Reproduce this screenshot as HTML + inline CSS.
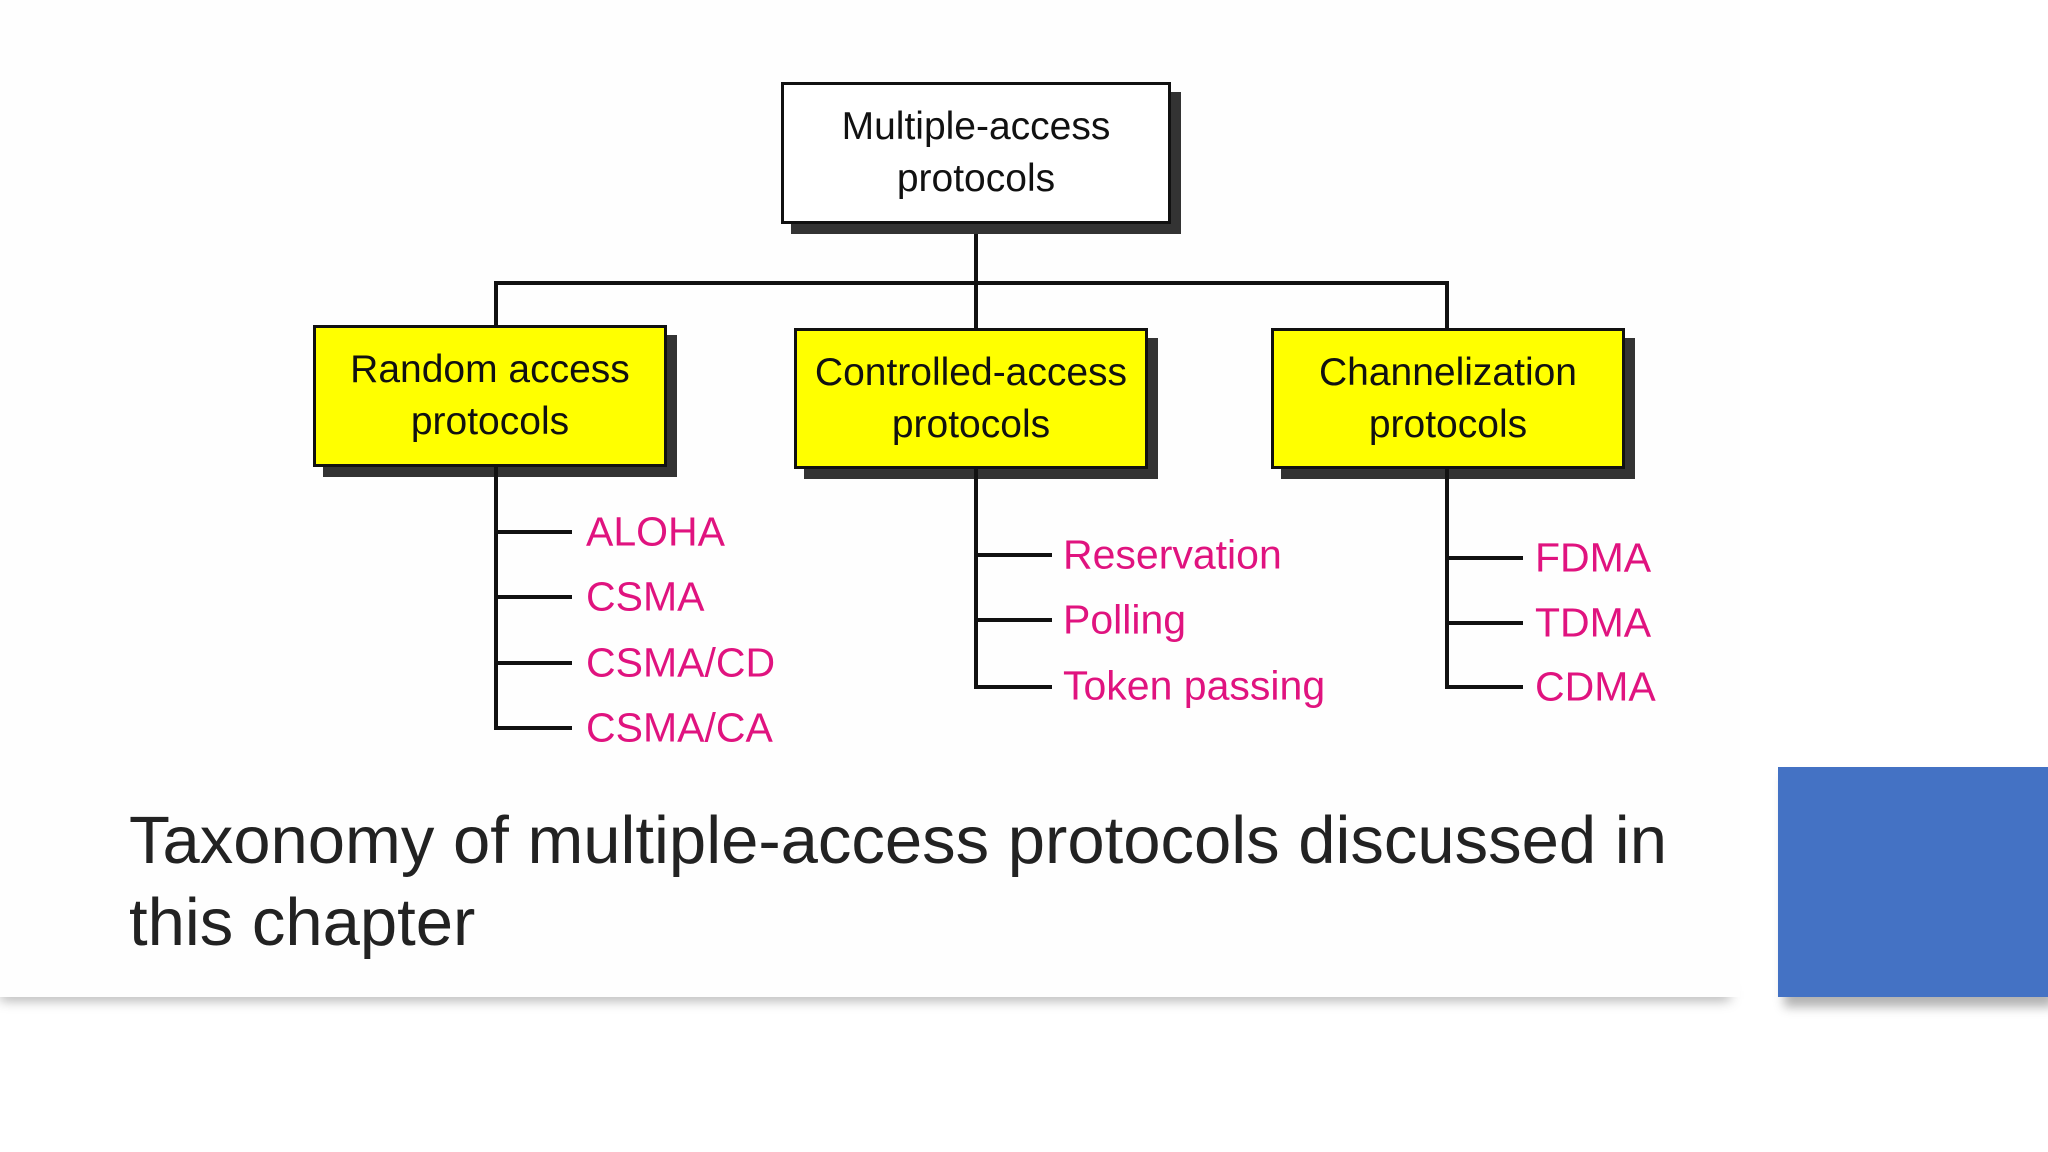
<!DOCTYPE html>
<html><head><meta charset="utf-8"><style>
html,body{margin:0;padding:0}
body{width:2048px;height:1152px;position:relative;overflow:hidden;background:#fff;font-family:"Liberation Sans",sans-serif}
.panel{position:absolute;left:0;top:0;width:1740px;height:997px;background:#fefefe}
.pshadow{position:absolute;left:0;top:990px;width:1730px;height:10px;background:rgba(0,0,0,.35);filter:blur(6px)}
.box{position:absolute;box-sizing:border-box;border:3px solid #111;box-shadow:10px 10px 0 #333;text-align:center;font-size:39px;line-height:52px;color:#111;display:flex;align-items:center;justify-content:center}
.y{background:#ffff00}
.l{position:absolute;background:#111}
.p{position:absolute;color:#e0137f;font-size:41px;line-height:1;transform:translateY(-50%)}
.cap{position:absolute;left:129px;top:800px;font-size:67px;line-height:82px;color:#222;font-weight:300}
.blue{position:absolute;left:1778px;top:767px;width:270px;height:230px;background:#4472c4;box-shadow:6px 10px 10px rgba(0,0,0,.3)}
</style></head><body>
<div class="pshadow"></div>
<div class="panel"></div>
<div class="blue"></div>
<div class="l" style="left:974px;top:223px;width:4px;height:106px"></div>
<div class="l" style="left:494px;top:281px;width:955px;height:4px"></div>
<div class="l" style="left:494px;top:281px;width:4px;height:46px"></div>
<div class="l" style="left:1445px;top:281px;width:4px;height:48px"></div>
<div class="box" style="left:781px;top:82px;width:390px;height:142px;background:#fff">Multiple-access<br>protocols</div>
<div class="box y" style="left:313px;top:325px;width:354px;height:142px">Random access<br>protocols</div>
<div class="box y" style="left:794px;top:328px;width:354px;height:141px">Controlled-access<br>protocols</div>
<div class="box y" style="left:1271px;top:328px;width:354px;height:141px">Channelization<br>protocols</div>
<div class="l" style="left:494px;top:467px;width:4px;height:263px"></div>
<div class="l" style="left:494px;top:530px;width:78px;height:4px"></div>
<div class="l" style="left:494px;top:595px;width:78px;height:4px"></div>
<div class="l" style="left:494px;top:661px;width:78px;height:4px"></div>
<div class="l" style="left:494px;top:726px;width:78px;height:4px"></div>
<div class="p" style="left:586px;top:532px">ALOHA</div>
<div class="p" style="left:586px;top:597px">CSMA</div>
<div class="p" style="left:586px;top:663px">CSMA/CD</div>
<div class="p" style="left:586px;top:728px">CSMA/CA</div>
<div class="l" style="left:974px;top:469px;width:4px;height:220px"></div>
<div class="l" style="left:974px;top:553px;width:78px;height:4px"></div>
<div class="l" style="left:974px;top:618px;width:78px;height:4px"></div>
<div class="l" style="left:974px;top:685px;width:78px;height:4px"></div>
<div class="p" style="left:1063px;top:555px">Reservation</div>
<div class="p" style="left:1063px;top:620px">Polling</div>
<div class="p" style="left:1063px;top:686px">Token passing</div>
<div class="l" style="left:1445px;top:469px;width:4px;height:220px"></div>
<div class="l" style="left:1445px;top:556px;width:78px;height:4px"></div>
<div class="l" style="left:1445px;top:621px;width:78px;height:4px"></div>
<div class="l" style="left:1445px;top:685px;width:78px;height:4px"></div>
<div class="p" style="left:1535px;top:558px">FDMA</div>
<div class="p" style="left:1535px;top:623px">TDMA</div>
<div class="p" style="left:1535px;top:687px">CDMA</div>
<div class="cap">Taxonomy of multiple-access protocols discussed in<br>this chapter</div>
</body></html>
